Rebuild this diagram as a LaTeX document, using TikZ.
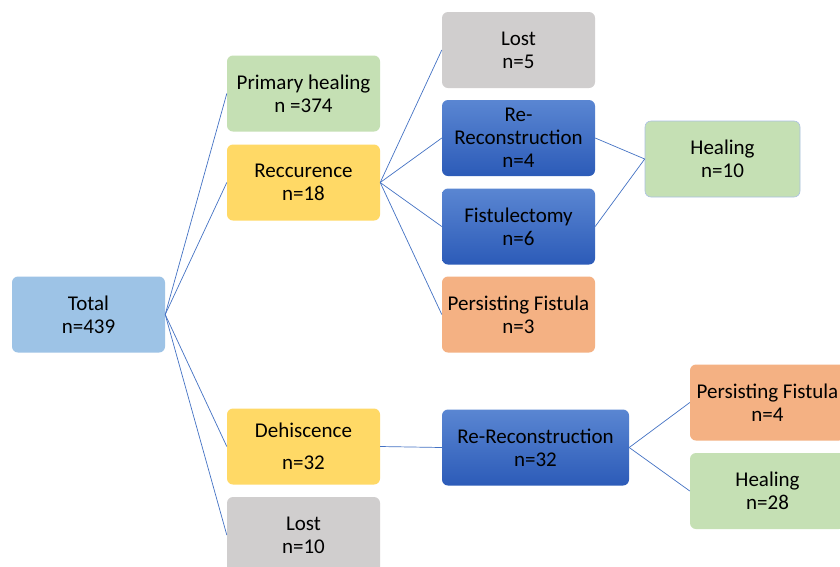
\documentclass[tikz,border=0pt]{standalone}
\usepackage{fontspec}
\setmainfont{Carlito}
\definecolor{cTotal}{HTML}{9DC3E6}
\definecolor{cGreen}{HTML}{C5E0B4}
\definecolor{cYellow}{HTML}{FFD966}
\definecolor{cGray}{HTML}{D0CECE}
\definecolor{cOrange}{HTML}{F4B183}
\definecolor{cBlueTop}{HTML}{5A86D2}
\definecolor{cBlueBot}{HTML}{2C5BB8}
\definecolor{cLine}{HTML}{4472C4}
\begin{document}
\begin{tikzpicture}[x=1pt,y=-1pt,
  box/.style={rounded corners=6pt, minimum width=153pt, minimum height=76pt, align=center,
    inner sep=0pt, font=\fontsize{21}{23}\selectfont, text=black},
  totalbox/.style={box, fill=cTotal},
  greenbox/.style={box, fill=cGreen},
  yellowbox/.style={box, fill=cYellow},
  graybox/.style={box, fill=cGray},
  orangebox/.style={box, fill=cOrange},
  bluebox/.style={box, top color=cBlueTop, bottom color=cBlueBot},
  conn/.style={draw=cLine, line width=0.7pt}
]
\useasboundingbox (0,0) rectangle (840,566);
\fill[white] (0,0) rectangle (840,566);

\node[totalbox] (total) at (88.5,314.5) {Total\\n=439};

\node[greenbox] (prim) at (303.5,93.5) {Primary healing\\n =374};
\node[yellowbox] (rec) at (303.5,182.5) {Reccurence\\n=18};
\node[yellowbox] (deh) at (303.5,446.5) {Dehiscence\\[9pt]n=32};
\node[graybox] (lost10) at (303.5,535) {Lost\\n=10};

\node[graybox] (lost5) at (518.5,50) {Lost\\n=5};
\node[bluebox] (rerec4) at (518.5,138) {Re-\\Reconstruction\\n=4};
\node[bluebox] (fist) at (518.5,226.5) {Fistulectomy\\n=6};
\node[orangebox] (pers3) at (518.5,314.5) {Persisting Fistula\\n=3};

\node[greenbox, draw=cLine!45, line width=0.6pt, minimum width=155pt] (heal10) at (722.5,159) {Healing\\n=10};

\node[bluebox, minimum width=187pt] (rerec32) at (535.5,447.5) {Re-Reconstruction\\n=32};

\node[orangebox, minimum width=155pt] (pers4) at (767.5,402.5) {Persisting Fistula\\n=4};
\node[greenbox, minimum width=155pt] (heal28) at (767.5,491) {Healing\\n=28};

\draw[conn] (total.east) -- (prim.west);
\draw[conn] (total.east) -- (rec.west);
\draw[conn] (total.east) -- (deh.west);
\draw[conn] (total.east) -- (lost10.west);

\draw[conn] (rec.east) -- (lost5.west);
\draw[conn] (rec.east) -- (rerec4.west);
\draw[conn] (rec.east) -- (fist.west);
\draw[conn] (rec.east) -- (pers3.west);

\draw[conn] (rerec4.east) -- (heal10.west);
\draw[conn] (fist.east) -- (heal10.west);

\draw[conn] (deh.east) -- (rerec32.west);
\draw[conn] (rerec32.east) -- (pers4.west);
\draw[conn] (rerec32.east) -- (heal28.west);
\end{tikzpicture}
\end{document}
